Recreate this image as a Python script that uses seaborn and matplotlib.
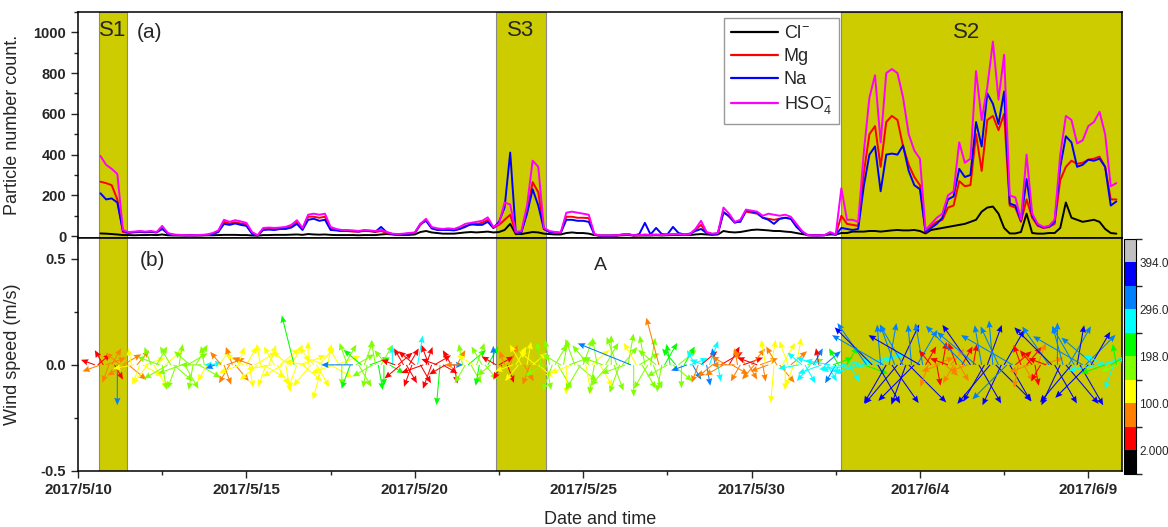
import numpy as np
import pandas as pd
import matplotlib
matplotlib.use("Agg")
import matplotlib.pyplot as plt
import matplotlib.dates as mdates
from matplotlib.colors import ListedColormap, BoundaryNorm
from matplotlib.cm import ScalarMappable
from matplotlib.ticker import FixedLocator, MultipleLocator, FuncFormatter
import seaborn as sns

nan = np.nan

# ---------------- data (4-hourly, from 2017-05-10 00:00) ----------------
start_time = "2017-05-10"
step = "4h"

hso4 = [nan, nan, nan, nan, 393, 350,
        330, 305, 30, 20, 22, 25,
        22, 25, 20, 50, 15, 8,
        6, 5, 4, 5, 6, 8,
        15, 28, 80, 70, 78, 72,
        65, 20, 4, 40, 42, 40,
        42, 45, 55, 78, 40, 105,
        110, 105, 110, 45, 35, 30,
        30, 28, 25, 30, 28, 25,
        30, 20, 12, 10, 12, 15,
        18, 60, 85, 45, 38, 35,
        38, 35, 45, 60, 65, 70,
        75, 92, 45, 60, 165, 155,
        20, 25, 150, 370, 340, 40,
        25, 20, 18, 115, 120, 115,
        110, 105, 10, 3, 3, 3,
        4, 8, 10, 4, 5, 8,
        6, 8, 6, 8, 10, 10,
        8, 10, 35, 75, 20, 12,
        15, 140, 110, 70, 80, 130,
        125, 120, 100, 110, 105, 100,
        105, 95, 60, 25, 5, 4,
        4, 5, 20, 8, 235, 80,
        80, 70, 410, 680, 790, 460,
        800, 820, 800, 680, 500, 420,
        380, 30, 60, 90, 110, 200,
        220, 460, 360, 380, 810, 570,
        730, 955, 670, 890, 200, 190,
        80, 400, 110, 60, 45, 50,
        80, 400, 590, 570, 455, 470,
        540, 560, 610, 500, 245, 260]

mg = [nan, nan, nan, nan, 267, 260,
      250, 180, 20, 15, 18, 20,
      18, 20, 18, 40, 12, 6,
      5, 4, 4, 4, 5, 6,
      12, 22, 70, 62, 68, 62,
      58, 15, 3, 35, 36, 35,
      38, 40, 48, 70, 35, 95,
      95, 90, 95, 38, 30, 25,
      25, 22, 22, 25, 24, 20,
      25, 15, 10, 8, 10, 12,
      15, 55, 80, 40, 32, 30,
      32, 30, 35, 50, 55, 60,
      65, 80, 40, 55, 80, 105,
      15, 20, 120, 265, 215, 35,
      20, 18, 15, 95, 95, 90,
      90, 88, 8, 2, 2, 2,
      3, 6, 8, 3, 4, 6,
      5, 6, 5, 6, 8, 8,
      6, 8, 30, 55, 15, 10,
      12, 120, 95, 65, 75, 120,
      115, 110, 90, 85, 80, 85,
      90, 85, 50, 20, 4, 3,
      3, 4, 15, 6, 100, 60,
      55, 50, 310, 500, 540, 340,
      560, 590, 570, 440, 350, 290,
      250, 20, 50, 70, 80, 140,
      150, 270, 245, 250, 500, 320,
      570, 590, 520, 600, 150, 140,
      70, 180, 90, 50, 40, 45,
      60, 275, 340, 370, 355, 360,
      375, 380, 390, 340, 180, 180]

na = [nan, nan, nan, nan, 210, 180,
      185, 165, 25, 18, 20, 22,
      20, 22, 18, 35, 12, 6,
      5, 4, 4, 4, 5, 6,
      10, 20, 60, 55, 62, 55,
      50, 12, 3, 30, 32, 30,
      35, 35, 42, 60, 30, 80,
      85, 75, 80, 30, 28, 25,
      25, 25, 22, 28, 25, 22,
      45, 18, 10, 8, 10, 12,
      15, 60, 75, 38, 30, 30,
      30, 28, 35, 45, 60, 55,
      55, 70, 40, 70, 140, 410,
      15, 20, 110, 230, 150, 35,
      20, 18, 15, 80, 80, 75,
      75, 70, 8, 2, 2, 2,
      3, 8, 10, 3, 10, 65,
      8, 40, 10, 8, 45, 15,
      8, 12, 25, 35, 15, 10,
      12, 115, 100, 68, 70, 125,
      120, 115, 90, 80, 60, 85,
      90, 85, 45, 20, 4, 3,
      3, 4, 15, 6, 40, 35,
      30, 35, 245, 400, 440, 220,
      400, 405, 400, 445, 320, 250,
      230, 20, 40, 60, 90, 180,
      195, 330, 290, 300, 560, 440,
      700, 650, 550, 710, 160, 150,
      75, 280, 100, 55, 42, 45,
      70, 340, 490, 460, 340, 350,
      375, 370, 380, 340, 150, 170]

cl = [nan, nan, nan, nan, 13, 12,
      10, 8, 5, 5, 4, 5,
      5, 6, 5, 8, 4, 3,
      3, 3, 3, 3, 3, 4,
      4, 5, 6, 6, 6, 5,
      5, 3, 2, 5, 5, 6,
      6, 6, 7, 8, 6, 10,
      8, 7, 8, 6, 5, 5,
      5, 5, 4, 5, 5, 5,
      8, 10, 8, 5, 5, 6,
      8, 20, 25, 18, 15, 12,
      12, 12, 15, 18, 20, 18,
      20, 22, 18, 20, 30, 60,
      10, 10, 15, 20, 18, 12,
      10, 8, 8, 15, 18, 15,
      15, 12, 5, 2, 2, 2,
      3, 4, 5, 3, 3, 3,
      3, 4, 3, 4, 5, 5,
      5, 5, 8, 10, 8, 6,
      8, 25, 20, 18, 20, 25,
      30, 32, 30, 28, 25, 25,
      22, 20, 15, 10, 6, 5,
      5, 5, 8, 8, 15, 15,
      22, 22, 22, 25, 25, 22,
      25, 28, 30, 28, 28, 30,
      25, 13, 30, 35, 40, 45,
      50, 55, 60, 70, 80, 120,
      140, 145, 110, 40, 13, 13,
      20, 110, 15, 12, 12, 15,
      15, 40, 165, 90, 80, 70,
      75, 80, 70, 35, 15, 12]

species = ["Cl$^{-}$", "Mg", "Na", "HSO$_4^{-}$"]
species_colors = ["#000000", "#FF0000", "#0000FF", "#FF00FF"]

# wind vectors (2-hourly): screen angle (deg), length (m/s units), colour value
wind_step = "2h"
wind_angle = [
    nan, nan, nan, nan, nan, nan, 160, 40, 200, 120, 20, 250,
    60, 300, 270, 140, 30, 210, 320, 100, 190, 50, 250, 330,
    20, 230, 110, 300, 60, 160, 280, 40, 210, 120, 320, 250,
    80, 200, 300, 30, 140, 260, 60, 330, 180, 100, 240, 10,
    180, 200, 50, 130, 290, 20, 240, 110, 310, 70, 200, 150,
    60, 280, 160, 30, 220, 100, 330, 250, 70, 190, 120, 300,
    40, 210, 280, 140, 60, 104, 250, 20, 320, 170, 90, 230,
    130, 300, 50, 255, 160, 80, 330, 200, 20, 120, 270, 60,
    110, 250, 180, 30, 300, 140, 70, 260, 20, 210, 100, 280,
    60, 270, 130, 330, 90, 160, 40, 220, 120, 300, 60, 250,
    140, 80, 300, 200, 70, 110, 250, 30, 160, 265, 330, 210,
    0, 120, 280, 60, 180, 100, 240, 40, 300, 150, 70, 260,
    120, 310, 60, 220, 90, 150, 30, 240, 110, 290, 70, 200,
    60, 230, 120, 300, 80, 250, 40, 140, 320, 100, 210, 280,
    100, 250, 60, 300, 150, 80, 270, 20, 200, 110, 320, 240,
    70, 280, 130, 40, 260, 100, 300, 160, 60, 230, 90, 290,
    110, 250, 50, 200, 80, 158, 270, 120, 30, 300, 100, 240,
    80, 290, 140, 105, 260, 60, 210, 100, 320, 130, 40, 270,
    60, 200, 20, 300, 120, 250, 40, 160, 280, 70, 220, 100,
    280, 30, 210, 150, 60, 330, 180, 100, 240, 20, 130, 300,
    50, 230, 160, 20, 280, 100, 200, 80, 265, 120, 310, 60,
    270, 110, 40, 250, 80, 190, 140, 300, 20, 230, 60, 160,
    100, 200, 40, 300, 170, 20, 240, 120, 10, 190, 60, 300,
    190, 10, 200, 15, 340, 125, 190, 135, 20, 300, 95, 150,
    240, 80, 305, 110, 230, 65, 120, 250, 315, 95, 225, 60,
    150, 100, 60, 250, 130, 20, 280, 200, 80, 320, 160, 50,
    240, 110, 300, 60, 135, 200, 125, 80, 140, 300, 100, 240,
    70, 230, 95, 315, 115, 245, 60, 225, 300, 150, 40, 260,
    110, 300, 50, 200, 130, 280, 70, 240, 20, 160, 125, 135,
    300, 90, 245, 105, 310, 60, 230, 120, 80, 300, 150, 45,
    225, 60, 140, 10, 190, 20, 200, 160, 30, 250, 100, 200]

wind_len = [
    nan, nan, nan, nan, nan, nan, .07, .08, .09, .08, .10, .09,
    .09, .08, .19, .09, .10, .10, .11, .08, .10, .09, .10, .11,
    .10, .12, .09, .13, .10, .11, .12, .11, .13, .10, .12, .12,
    .10, .12, .13, .11, .10, .12, .11, .12, .10, .09, .09, .06,
    .04, .05, .09, .08, .10, .09, .10, .09, .10, .09, .11, .10,
    .10, .11, .10, .12, .11, .10, .12, .11, .10, .12, .10, .11,
    .12, .11, .13, .10, .11, .24, .12, .13, .12, .10, .11, .13,
    .11, .12, .11, .17, .11, .10, .12, .11, .12, .10, .10, .11,
    .11, .12, .15, .10, .12, .11, .12, .11, .10, .11, .12, .12,
    .11, .10, .09, .08, .09, .07, .09, .10, .09, .10, .09, .11,
    .10, .14, .10, .11, .09, .10, .12, .09, .08, .19, .08, .09,
    .07, .08, .09, .08, .07, .10, .10, .11, .10, .09, .11, .10,
    .10, .09, .10, .08, .09, .08, .08, .08, .07, .09, .10, .09,
    .10, .10, .11, .09, .11, .10, .09, .10, .09, .11, .10, .12,
    .12, .13, .11, .13, .10, .12, .14, .10, .11, .13, .12, .14,
    .13, .14, .12, .11, .14, .13, .12, .10, .12, .13, .14, .13,
    .14, .14, .11, .12, .15, .27, .15, .12, .11, .13, .14, .13,
    .13, .12, .11, .23, .13, .12, .11, .10, .12, .10, .11, .11,
    .10, .08, .09, .08, .08, .09, .10, .07, .10, .12, .09, .08,
    .08, .12, .10, .08, .10, .09, .11, .08, .09, .10, .09, .08,
    .10, .09, .10, .09, .08, .12, .09, .12, .18, .10, .11, .12,
    .12, .12, .10, .11, .13, .10, .09, .10, .08, .10, .09, .10,
    .08, .12, .10, .09, .12, .10, .10, .09, .14, .12, .10, .09,
    .15, .18, .12, .20, .12, .24, .18, .25, .15, .21, .19, .28,
    .21, .20, .22, .20, .24, .21, .22, .20, .25, .19, .24, .19,
    .28, .20, .10, .11, .09, .10, .10, .09, .11, .08, .09, .10,
    .10, .11, .09, .10, .26, .09, .23, .10, .24, .21, .19, .20,
    .20, .24, .21, .24, .20, .21, .19, .23, .20, .28, .10, .11,
    .10, .09, .11, .10, .09, .10, .11, .09, .10, .09, .22, .25,
    .21, .20, .21, .19, .24, .21, .23, .21, .19, .22, .27, .20,
    .22, .18, .20, .15, .15, .14, .12, .12, .10, .12, .10, .09]

wind_col = [
    nan, nan, nan, nan, nan, nan, 30, 30, 75, 30, 75, 75,
    75, 30, 320, 75, 75, 75, 75, 125, 125, 75, 125, 125,
    125, 125, 175, 125, 175, 175, 175, 125, 175, 175, 175, 175,
    175, 175, 175, 175, 175, 175, 175, 175, 175, 175, 125, 270,
    270, 320, 125, 75, 75, 75, 75, 75, 75, 125, 125, 125,
    125, 125, 75, 125, 125, 125, 125, 125, 125, 125, 125, 125,
    125, 125, 125, 125, 125, 220, 125, 125, 125, 125, 125, 125,
    125, 125, 125, 125, 125, 125, 125, 125, 125, 125, 175, 175,
    175, 220, 320, 175, 175, 220, 175, 175, 220, 175, 175, 220,
    175, 220, 175, 220, 270, 30, 30, 30, 30, 30, 30, 30,
    30, 270, 30, 30, 30, 30, 30, 30, 30, 220, 30, 30,
    320, 30, 30, 75, 75, 175, 175, 220, 175, 125, 175, 220,
    175, 175, 220, 175, 320, 30, 30, 30, 75, 30, 75, 125,
    125, 125, 125, 75, 125, 75, 125, 125, 125, 175, 175, 175,
    175, 175, 175, 175, 175, 175, 125, 175, 125, 175, 175, 175,
    175, 125, 175, 125, 175, 175, 125, 175, 175, 175, 175, 175,
    175, 175, 175, 175, 175, 320, 175, 125, 175, 175, 175, 175,
    175, 175, 175, 75, 175, 220, 175, 220, 175, 220, 175, 175,
    220, 320, 270, 320, 270, 75, 30, 270, 320, 270, 75, 320,
    270, 30, 75, 75, 30, 75, 75, 75, 75, 30, 75, 75,
    75, 75, 30, 75, 75, 125, 75, 125, 125, 75, 75, 125,
    125, 125, 75, 125, 125, 270, 270, 270, 175, 270, 320, 270,
    30, 270, 320, 270, 270, 220, 320, 220, 270, 270, 220, 270,
    270, 270, 270, 270, 220, 320, 270, 370, 270, 370, 320, 320,
    370, 320, 370, 320, 370, 370, 320, 370, 370, 320, 370, 320,
    370, 320, 30, 75, 30, 75, 30, 75, 30, 75, 30, 75,
    75, 30, 75, 30, 320, 75, 370, 30, 320, 370, 320, 370,
    370, 370, 320, 370, 320, 370, 370, 320, 370, 320, 30, 75,
    30, 75, 30, 75, 30, 30, 75, 30, 75, 30, 320, 370,
    370, 320, 370, 320, 370, 320, 370, 320, 370, 370, 320, 320,
    370, 370, 320, 270, 270, 270, 220, 270, 220, 270, 220, 175]

# colour scale of the vector plot
cbar_bounds = [-47, 2, 51, 100, 149, 198, 247, 296, 345, 394, 443]
cbar_colors = ["#000000", "#FF0000", "#FF8000", "#FFFF00", "#80FF00",
               "#00FF00", "#00FFFF", "#0080FF", "#0000FF", "#C0C0C0"]
cbar_ticks = [2, 100, 198, 296, 394]
cbar_ticklabels = ["2.000", "100.0", "198.0", "296.0", "394.0"]

# shaded episodes
episode_names = ["S1", "S3", "S2"]
episode_start = ["2017-05-10 14:50", "2017-05-22 09:50", "2017-06-01 15:40"]
episode_end = ["2017-05-11 10:50", "2017-05-23 21:50", "2017-06-10 00:00"]

x_range = ["2017-05-10", "2017-06-10"]
major_ticks = pd.date_range("2017-05-10", periods=7, freq="5D")
minor_ticks = pd.date_range("2017-05-10", periods=13, freq="60h")

# ---------------- figure ----------------
sns.set_theme(style="ticks")
plt.rcParams["font.family"] = ["Liberation Sans", "DejaVu Sans"]
plt.rcParams["mathtext.fontset"] = "custom"
plt.rcParams["mathtext.rm"] = "Liberation Sans"
plt.rcParams["mathtext.it"] = "Liberation Sans:italic"
plt.rcParams["axes.edgecolor"] = "black"
plt.rcParams["axes.linewidth"] = 1.1

times = pd.date_range(start_time, periods=len(hso4), freq=step)
df = pd.DataFrame({"time": np.tile(times, 4),
                   "value": np.concatenate([cl, mg, na, hso4]),
                   "species": np.repeat(species, len(times))})
df = df.dropna()

fig = plt.figure(figsize=(11.68, 5.27), dpi=100)
ax1 = fig.add_axes([0.0668, 0.5493, 0.8938, 0.4279])
ax2 = fig.add_axes([0.0668, 0.1063, 0.8938, 0.4430], sharex=ax1)
cax = fig.add_axes([0.9623, 0.1006, 0.0107, 0.4459])

shade = "#CCCC00"
for ax in (ax1, ax2):
    for s, e in zip(episode_start, episode_end):
        ax.axvspan(pd.Timestamp(s), pd.Timestamp(e), facecolor=shade,
                   edgecolor="#888888", linewidth=0.8, zorder=0)

sns.lineplot(data=df, x="time", y="value", hue="species",
             hue_order=species, palette=dict(zip(species, species_colors)),
             linewidth=1.4, ax=ax1, legend=True, zorder=2)

leg = ax1.get_legend()
handles = leg.legend_handles
labels = [t.get_text() for t in leg.get_texts()]
for h in handles:
    h.set_linewidth(1.6)
ax1.legend(handles, labels, loc="upper left", bbox_to_anchor=(0.619, 0.975),
           frameon=True, fancybox=False, edgecolor="#999999", framealpha=1,
           fontsize=13, labelspacing=0.34, handlelength=2.6, handletextpad=0.3,
           borderpad=0.4, borderaxespad=0)

ax1.set_xlim(pd.Timestamp(x_range[0]), pd.Timestamp(x_range[1]))
ax1.set_ylim(-7, 1100)
ax1.yaxis.set_major_locator(MultipleLocator(200))
ax1.yaxis.set_minor_locator(MultipleLocator(100))
ax1.set_ylabel("Particle number count.", fontsize=13)
ax1.set_xlabel("")
ax1.yaxis.set_label_coords(-0.055, 0.5)
ax1.tick_params(axis="x", which="both", bottom=True, labelbottom=False,
                direction="out")
ax1.tick_params(axis="both", which="major", length=5, width=1)
ax1.tick_params(axis="both", which="minor", length=3, width=1)
for lbl in ax1.get_yticklabels():
    lbl.set_fontweight("bold")
ax1.tick_params(axis="y", labelsize=10.5)

# wind vectors
cmap = ListedColormap(cbar_colors)
norm = BoundaryNorm(cbar_bounds, cmap.N)
wind_times = pd.date_range(start_time, periods=len(wind_angle), freq=wind_step)
t_num = mdates.date2num(wind_times)
ang = np.array(wind_angle, dtype=float)
wl = np.array(wind_len, dtype=float)
wc = np.array(wind_col, dtype=float)
m = ~np.isnan(wl)
ax2.quiver(t_num[m], np.zeros(m.sum()), wl[m], np.zeros(m.sum()), wc[m],
           angles=ang[m], scale_units="y", scale=1, cmap=cmap, norm=norm,
           width=0.001, headwidth=6, headlength=7, headaxislength=6.3,
           zorder=3)

ax2.set_ylim(-0.5, 0.6)
ax2.yaxis.set_major_locator(MultipleLocator(0.5))
ax2.yaxis.set_minor_locator(MultipleLocator(0.25))
ax2.yaxis.set_major_formatter(FuncFormatter(lambda v, p: f"{v:.1f}"))
ax2.xaxis.set_major_locator(FixedLocator(mdates.date2num(major_ticks)))
ax2.xaxis.set_minor_locator(FixedLocator(mdates.date2num(minor_ticks)))
ax2.xaxis.set_major_formatter(FuncFormatter(
    lambda v, p: (lambda d: f"{d.year}/{d.month}/{d.day}")(mdates.num2date(v))))
ax2.set_ylabel("Wind speed (m/s)", fontsize=13)
ax2.yaxis.set_label_coords(-0.055, 0.5)
ax2.set_xlabel("Date and time", fontsize=13)
ax2.xaxis.set_label_coords(0.5, -0.17)
ax2.tick_params(axis="both", which="major", length=5, width=1, direction="out")
ax2.tick_params(axis="both", which="minor", length=3, width=1, direction="out")
ax2.tick_params(axis="x", labelsize=11)
ax2.tick_params(axis="y", labelsize=10.5)
for lbl in ax2.get_xticklabels() + ax2.get_yticklabels():
    lbl.set_fontweight("bold")

# colour bar
cb = fig.colorbar(ScalarMappable(norm=norm, cmap=cmap), cax=cax,
                  ticks=cbar_ticks)
cb.ax.set_yticklabels(cbar_ticklabels)
cb.ax.tick_params(length=0, labelsize=8.5, pad=2)
cb.outline.set_linewidth(0.8)

# annotations
ax1.text(0.0335, 0.92, "S1", transform=ax1.transAxes, fontsize=16,
         ha="center", va="center")
ax1.text(0.068, 0.91, "(a)", transform=ax1.transAxes, fontsize=15,
         ha="center", va="center")
ax1.text(0.424, 0.92, "S3", transform=ax1.transAxes, fontsize=16,
         ha="center", va="center")
ax1.text(0.851, 0.91, "S2", transform=ax1.transAxes, fontsize=16,
         ha="center", va="center")
ax2.text(0.071, 0.9, "(b)", transform=ax2.transAxes, fontsize=15,
         ha="center", va="center")
ax2.text(0.5, 0.88, "A", transform=ax2.transAxes, fontsize=14,
         ha="center", va="center")

fig.savefig("out.png", dpi=100)
